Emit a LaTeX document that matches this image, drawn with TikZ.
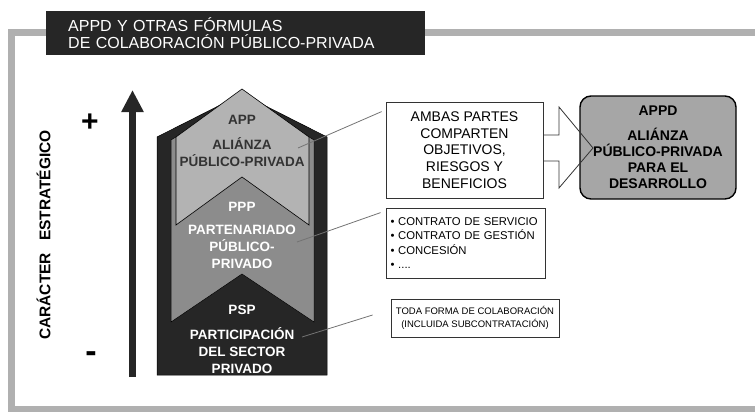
\documentclass[tikz,border=0pt]{standalone}
\usepackage{fontspec}
\setmainfont{Liberation Sans}
\usetikzlibrary{arrows.meta,positioning}
\definecolor{inkdark}{HTML}{262626}
\definecolor{midgray}{HTML}{8C8C8C}
\definecolor{lightgray}{HTML}{B3B3B3}
\definecolor{framegray}{HTML}{B0B0B0}
\definecolor{appdgray}{HTML}{A6A6A6}

\begin{document}
\begin{tikzpicture}[
  x=1pt,y=-1pt,
  >=Latex,
  titlebar/.style={
    fill=inkdark,
    text=white,
    anchor=north west,
    align=left,
    text width=335pt,
    minimum height=44pt,
    inner xsep=22pt,
    inner ysep=0pt,
    font=\fontsize{16}{17}\selectfont
  },
  layertext/.style={
    align=center,
    inner sep=0pt,
    font=\bfseries\fontsize{13.5}{17}\selectfont
  },
  callout/.style={
    draw=black!80,
    fill=white,
    line width=0.8pt,
    align=center,
    inner sep=0pt
  },
  leader/.style={draw=black!55,line width=0.8pt},
  sign/.style={font=\bfseries\fontsize{30}{30}\selectfont,inner sep=0pt}
]
  \useasboundingbox (0,0) rectangle (755,412);

  % Gray frame and title bar.
  \draw[framegray,line width=7pt] (11.5,33) rectangle (760,409.5);
  \node[titlebar] (title) at (46,11) {
    APPD Y OTRAS FÓRMULAS\\
    DE COLABORACIÓN PÚBLICO-PRIVADA
  };

  % Strategic axis.
  \node[rotate=90,inner sep=0pt,font=\bfseries\fontsize{15.5}{15.5}\selectfont] (axis) at (43.5,235)
    {CARÁCTER\hspace{12pt}ESTRATÉGICO};
  \node[sign] (plus) at (90,123) {+};
  \node[sign,font=\bfseries\fontsize{34}{34}\selectfont] (minus) at (91,357) {-};
  \coordinate (axislow) at (132.5,377);
  \coordinate (axishigh) at (132.5,90);
  \draw[inkdark,line width=7pt,-{Triangle[width=21pt,length=22pt]}] (axislow) -- (axishigh);

  % Stacked layers: PSP, PPP, APP.
  \filldraw[fill=inkdark,draw=black,line width=0.5pt]
    (157,375) -- (157,137) -- (242,94) -- (327,137) -- (327,375) -- cycle;
  \filldraw[fill=midgray,draw=black,line width=0.5pt]
    (171,140) -- (242,96) -- (314,140) -- (314,322) -- (242,274) -- (171,322) -- cycle;
  \filldraw[fill=lightgray,draw=black,line width=0.6pt]
    (176,137) -- (242,89) -- (309,137) -- (309,225) -- (242,177) -- (176,225) -- cycle;

  \node[layertext,text=black!80] (app) at (242,141.2) {
    APP\\[8pt]
    ALIÁNZA\\
    PÚBLICO-PRIVADA
  };
  \node[layertext,text=white] (ppp) at (242,235.2) {
    PPP\\[6pt]
    PARTENARIADO\\
    PÚBLICO-\\
    PRIVADO
  };
  \node[layertext,text=white] (psp) at (242,339.2) {
    PSP\\[8pt]
    PARTICIPACIÓN\\
    DEL SECTOR\\
    PRIVADO
  };

  % Explanatory boxes.
  \node[callout,minimum width=157pt,minimum height=96pt,
    font=\fontsize{14}{16.75}\selectfont] (ambas) at (464.5,150) {
    AMBAS PARTES\\
    COMPARTEN\\
    OBJETIVOS,\\
    RIESGOS Y\\
    BENEFICIOS
  };
  \node[callout,align=left,text width=150pt,minimum height=70pt,inner xsep=4.5pt,
    font=\fontsize{11.3}{14.5}\selectfont] (modes) at (465.5,243) {
    • CONTRATO DE SERVICIO\\
    • CONTRATO DE GESTIÓN\\
    • CONCESIÓN\\
    • ....
  };
  \node[callout,minimum width=168pt,minimum height=38pt,
    font=\fontsize{9.5}{13}\selectfont] (any) at (475,318) {
    TODA FORMA DE COLABORACIÓN\\
    (INCLUIDA SUBCONTRATACIÓN)
  };

  \node[draw=black,fill=appdgray,line width=1.4pt,rounded corners=11pt,align=center,
    minimum width=156pt,minimum height=103pt,inner sep=0pt,
    font=\bfseries\fontsize{14}{16}\selectfont] (appd) at (658,147.5) {
    APPD\\[9pt]
    ALIÁNZA\\
    PÚBLICO-PRIVADA\\
    PARA EL\\
    DESARROLLO
  };

  % Block arrow towards APPD.
  \draw[black!80,line width=0.8pt,line join=miter]
    (ambas.east |- 0,135) -- (559,135) -- (559,107) -- (593,148)
    -- (559,188) -- (559,161) -- (ambas.east |- 0,161);

  % Leaders from the layers to the boxes.
  \coordinate (append) at (298,148);
  \coordinate (pppend) at (297,242);
  \coordinate (pspend) at (302,337);
  \draw[leader] (append) -- ([xshift=-4pt,yshift=-10pt]ambas.north west);
  \draw[leader] (pppend) -- ([xshift=-5pt,yshift=-5pt]modes.north west);
  \draw[leader] (pspend) -- ([xshift=-18pt,yshift=3pt]any.west);
\end{tikzpicture}
\end{document}
